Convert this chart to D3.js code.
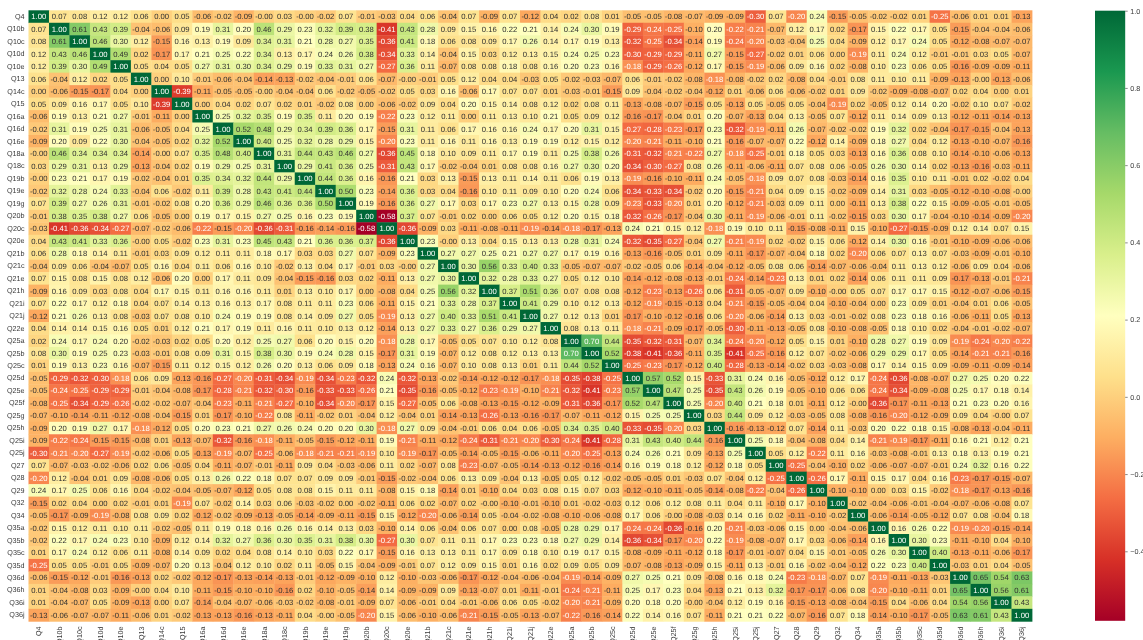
<!DOCTYPE html>
<html><head><meta charset="utf-8">
<style>html,body{margin:0;padding:0;background:#fff;overflow:hidden}svg{display:block;filter:blur(0.4px);text-rendering:geometricPrecision}</style>
<script src="https://cdn.jsdelivr.net/npm/d3@7"></script>
</head><body><svg id="chart" width="1143" height="640"></svg>
<script>
const labels = ["Q4","Q10b","Q10c","Q10d","Q10e","Q13","Q14c","Q15","Q16a","Q16d","Q16e","Q18a","Q18c","Q19b","Q19e","Q19g","Q20b","Q20c","Q20e","Q21b","Q21c","Q21e","Q21h","Q21i","Q21j","Q22e","Q25a","Q25b","Q25c","Q25d","Q25e","Q25f","Q25g","Q25h","Q25i","Q25j","Q27","Q28","Q29","Q32","Q34","Q35a","Q35b","Q35c","Q35d","Q36d","Q36h","Q36i","Q36j"];
const colorbarTicks = [-0.4,-0.2,0,0.2,0.4,0.6,0.8,1];
const paletteRdYlGn = ["#a50026","#d73027","#f46d43","#fdae61","#fee08b","#ffffbf","#d9ef8b","#a6d96a","#66bd63","#1a9850","#006837"];

const rQ4=[1.00,0.07,0.08,0.12,0.12,0.06,0.00,0.05,-0.06,-0.02,-0.09,-0.00,0.03,-0.00,-0.02,0.07,-0.01,-0.03,0.04,0.06,-0.04,0.07,-0.09,0.07,-0.12,0.04,0.02,0.08,0.01,-0.05,-0.05,-0.08,-0.07,-0.09,-0.09,-0.30,0.07,-0.20,0.24,-0.15,-0.05,-0.02,-0.02,0.01,-0.25,-0.06,0.01,0.01,-0.13];
const rQ10b=[0.07,1.00,0.61,0.43,0.39,-0.04,-0.06,0.09,0.19,0.31,0.20,0.46,0.29,0.23,0.32,0.39,0.38,-0.41,0.43,0.28,0.09,0.15,0.16,0.22,0.21,0.14,0.24,0.30,0.19,-0.29,-0.24,-0.25,-0.10,0.20,-0.22,-0.21,-0.07,0.12,0.17,0.02,-0.17,0.15,0.22,0.17,0.05,-0.15,-0.04,-0.04,-0.06];
const rQ10c=[0.08,0.61,1.00,0.46,0.30,0.12,-0.15,0.16,0.13,0.19,0.09,0.34,0.31,0.21,0.28,0.27,0.35,-0.36,0.41,0.18,0.06,0.08,0.09,0.17,0.26,0.14,0.17,0.19,0.13,-0.32,-0.25,-0.34,-0.14,0.19,-0.24,-0.20,-0.03,-0.04,0.25,0.04,-0.09,0.12,0.17,0.24,0.05,-0.12,-0.08,-0.07,-0.07];
const rQ10d=[0.12,0.43,0.46,1.00,0.49,0.02,-0.17,0.17,0.21,0.25,0.22,0.34,0.13,0.17,0.24,0.26,0.38,-0.34,0.33,0.14,-0.04,0.15,0.03,0.12,0.13,0.15,0.24,0.25,0.23,-0.30,-0.29,-0.29,-0.11,0.27,-0.15,-0.27,-0.02,0.01,0.06,0.00,-0.19,0.11,0.24,0.12,-0.01,-0.01,0.03,0.05,-0.07];
const rQ10e=[0.12,0.39,0.30,0.49,1.00,0.05,0.04,0.05,0.27,0.31,0.30,0.34,0.29,0.19,0.33,0.31,0.27,-0.27,0.36,0.11,-0.07,0.08,0.08,0.18,0.08,0.16,0.20,0.23,0.16,-0.18,-0.29,-0.26,-0.12,0.17,-0.15,-0.19,-0.06,0.09,0.16,0.02,-0.08,0.10,0.23,0.06,0.05,-0.16,-0.09,-0.09,-0.11];
const rQ13=[0.06,-0.04,0.12,0.02,0.05,1.00,0.00,0.10,-0.01,-0.06,-0.04,-0.14,-0.13,-0.02,-0.04,-0.01,0.06,-0.07,-0.00,-0.01,0.05,0.12,0.04,0.04,-0.03,0.05,-0.02,-0.03,-0.07,0.06,-0.01,-0.02,-0.08,-0.18,-0.08,-0.02,0.02,-0.08,0.04,-0.01,0.08,0.11,0.10,0.11,-0.09,-0.13,-0.00,-0.13,-0.06];
const rQ14c=[0.00,-0.06,-0.15,-0.17,0.04,0.00,1.00,-0.39,-0.11,-0.05,-0.05,-0.00,-0.04,-0.04,0.06,-0.02,-0.05,-0.02,0.05,0.03,0.16,-0.06,0.17,0.07,0.07,0.01,-0.03,-0.01,-0.15,0.09,-0.04,-0.02,-0.04,-0.12,0.01,-0.06,0.06,-0.06,-0.02,0.01,0.09,-0.02,-0.09,-0.08,-0.07,0.02,0.04,0.00,0.01];
const rQ15=[0.05,0.09,0.16,0.17,0.05,0.10,-0.39,1.00,0.00,0.04,0.02,0.07,0.02,0.01,-0.02,0.08,0.00,-0.06,-0.02,0.09,0.04,0.20,0.15,0.14,0.08,0.12,0.02,0.08,0.11,-0.13,-0.08,-0.07,-0.15,0.05,-0.13,0.05,-0.05,0.05,-0.04,-0.19,0.02,-0.05,0.12,0.14,0.20,-0.02,0.10,0.07,-0.02];
const rQ16a=[-0.06,0.19,0.13,0.21,0.27,-0.01,-0.11,0.00,1.00,0.25,0.32,0.35,0.19,0.35,0.11,0.20,0.19,-0.22,0.23,0.12,0.11,0.00,0.11,0.13,0.10,0.21,0.05,0.09,0.12,-0.16,-0.17,-0.04,0.01,0.20,-0.07,-0.13,0.04,0.13,-0.05,0.07,-0.12,0.11,0.14,0.09,0.13,-0.12,-0.11,-0.14,-0.13];
const rQ16d=[-0.02,0.31,0.19,0.25,0.31,-0.06,-0.05,0.04,0.25,1.00,0.52,0.48,0.29,0.34,0.39,0.36,0.17,-0.15,0.31,0.11,0.06,0.17,0.16,0.16,0.24,0.17,0.20,0.31,0.15,-0.27,-0.28,-0.23,-0.17,0.23,-0.32,-0.19,-0.11,0.26,-0.07,-0.02,-0.02,0.19,0.32,0.02,-0.04,-0.17,-0.15,-0.04,-0.13];
const rQ16e=[-0.09,0.20,0.09,0.22,0.30,-0.04,-0.05,0.02,0.32,0.52,1.00,0.40,0.25,0.32,0.28,0.29,0.15,-0.20,0.23,0.11,0.16,0.11,0.16,0.13,0.19,0.19,0.12,0.15,0.12,-0.20,-0.21,-0.11,-0.10,0.21,-0.16,-0.07,-0.07,0.22,-0.12,0.14,-0.09,0.18,0.27,0.04,0.12,-0.13,-0.10,-0.07,-0.16];
const rQ18a=[-0.00,0.46,0.34,0.34,0.34,-0.14,-0.00,0.07,0.35,0.48,0.40,1.00,0.31,0.44,0.43,0.46,0.27,-0.36,0.45,0.18,0.10,0.09,0.11,0.17,0.19,0.11,0.25,0.38,0.26,-0.31,-0.32,-0.21,-0.22,0.27,-0.18,-0.25,-0.01,0.18,0.05,0.03,-0.13,0.16,0.36,0.08,0.10,-0.14,-0.10,-0.06,-0.13];
const rQ18c=[0.03,0.29,0.31,0.13,0.29,-0.13,-0.04,0.02,0.19,0.29,0.25,0.31,1.00,0.29,0.41,0.36,0.25,-0.31,0.43,0.17,-0.02,-0.04,0.01,0.08,0.08,0.16,0.27,0.30,0.20,-0.34,-0.30,-0.27,0.08,0.26,-0.11,-0.06,-0.11,0.07,0.08,0.06,-0.05,0.26,0.30,0.14,0.02,-0.13,-0.16,-0.03,-0.11];
const rQ19b=[-0.00,0.23,0.21,0.17,0.19,-0.02,-0.04,0.01,0.35,0.34,0.32,0.44,0.29,1.00,0.44,0.36,0.16,-0.16,0.21,0.03,0.13,-0.15,0.13,0.11,0.14,0.11,0.06,0.19,0.13,-0.19,-0.16,-0.10,-0.11,0.24,-0.05,-0.18,0.09,0.07,0.08,-0.03,-0.14,0.16,0.35,0.10,0.11,-0.01,0.02,-0.02,0.04];
const rQ19e=[-0.02,0.32,0.28,0.24,0.33,-0.04,0.06,-0.02,0.11,0.39,0.28,0.43,0.41,0.44,1.00,0.50,0.23,-0.14,0.36,0.03,0.04,-0.16,0.10,0.11,0.09,0.10,0.20,0.24,0.06,-0.34,-0.33,-0.34,-0.02,0.20,-0.15,-0.21,0.04,0.09,0.15,-0.02,-0.09,0.14,0.31,0.03,-0.05,-0.12,-0.10,-0.08,-0.00];
const rQ19g=[0.07,0.39,0.27,0.26,0.31,-0.01,-0.02,0.08,0.20,0.36,0.29,0.46,0.36,0.36,0.50,1.00,0.19,-0.16,0.36,0.27,0.17,0.03,0.17,0.23,0.27,0.13,0.15,0.28,0.09,-0.23,-0.33,-0.20,0.01,0.20,-0.12,-0.21,-0.03,0.09,0.11,0.00,-0.11,0.13,0.38,0.22,0.15,-0.09,-0.05,-0.01,-0.05];
const rQ20b=[-0.01,0.38,0.35,0.38,0.27,0.06,-0.05,0.00,0.19,0.17,0.15,0.27,0.25,0.16,0.23,0.19,1.00,-0.58,0.37,0.07,-0.01,0.02,0.00,0.06,0.05,0.12,0.20,0.15,0.18,-0.32,-0.26,-0.17,-0.04,0.30,-0.11,-0.19,-0.06,-0.01,0.11,-0.02,-0.15,0.03,0.30,0.17,-0.04,-0.10,-0.14,-0.09,-0.20];
const rQ20c=[-0.03,-0.41,-0.36,-0.34,-0.27,-0.07,-0.02,-0.06,-0.22,-0.15,-0.20,-0.36,-0.31,-0.16,-0.14,-0.16,-0.58,1.00,-0.36,-0.09,0.03,-0.11,-0.08,-0.11,-0.19,-0.14,-0.18,-0.17,-0.13,0.24,0.21,0.15,0.12,-0.18,0.19,0.10,0.11,-0.15,-0.08,-0.11,0.15,-0.10,-0.27,-0.15,-0.09,0.12,0.14,0.07,0.15];
const rQ20e=[0.04,0.43,0.41,0.33,0.36,-0.00,0.05,-0.02,0.23,0.31,0.23,0.45,0.43,0.21,0.36,0.36,0.37,-0.36,1.00,0.23,-0.00,0.13,0.04,0.15,0.13,0.13,0.28,0.31,0.24,-0.32,-0.35,-0.27,-0.04,0.27,-0.21,-0.19,0.02,-0.02,0.15,0.06,-0.12,0.14,0.30,0.16,-0.01,-0.10,-0.09,-0.06,-0.06];
const rQ21b=[0.06,0.28,0.18,0.14,0.11,-0.01,0.03,0.09,0.12,0.11,0.11,0.18,0.17,0.03,0.03,0.27,0.07,-0.09,0.23,1.00,0.27,0.27,0.25,0.21,0.27,0.27,0.17,0.19,0.16,-0.13,-0.16,-0.05,0.01,0.09,-0.11,-0.17,-0.07,-0.04,0.18,0.02,-0.20,0.06,0.07,0.13,0.07,-0.03,-0.09,-0.01,-0.10];
const rQ21c=[-0.04,0.09,0.06,-0.04,-0.07,0.05,0.16,0.04,0.11,0.06,0.16,0.10,-0.02,0.13,0.04,0.17,-0.01,0.03,-0.00,0.27,1.00,0.30,0.56,0.33,0.40,0.33,-0.05,-0.07,-0.07,-0.02,-0.05,0.06,-0.14,-0.04,-0.12,-0.05,0.08,0.06,-0.14,-0.07,-0.06,-0.04,0.11,0.13,0.12,-0.06,0.09,0.04,-0.06];
const rQ21e=[0.07,0.15,0.08,0.15,0.08,0.12,-0.06,0.20,0.00,0.17,0.11,0.09,-0.04,-0.15,-0.16,0.03,0.02,-0.11,0.13,0.27,0.30,1.00,0.32,0.28,0.33,0.27,0.05,0.12,0.10,-0.14,-0.12,-0.08,-0.13,-0.01,-0.24,-0.14,-0.23,0.13,0.01,0.02,-0.14,0.06,0.11,0.11,0.09,-0.17,-0.13,-0.01,-0.21];
const rQ21h=[-0.09,0.16,0.09,0.03,0.08,0.04,0.17,0.15,0.11,0.16,0.16,0.11,0.01,0.13,0.10,0.17,0.00,-0.08,0.04,0.25,0.56,0.32,1.00,0.37,0.51,0.36,0.07,0.08,0.08,-0.12,-0.23,-0.13,-0.26,0.06,-0.31,-0.05,-0.07,0.09,-0.10,-0.00,0.05,0.07,0.17,0.17,0.15,-0.12,-0.07,-0.06,-0.15];
const rQ21i=[0.07,0.22,0.17,0.12,0.18,0.04,0.07,0.14,0.13,0.16,0.13,0.17,0.08,0.11,0.11,0.23,0.06,-0.11,0.15,0.21,0.33,0.28,0.37,1.00,0.41,0.29,0.10,0.12,0.13,-0.12,-0.19,-0.15,-0.13,0.04,-0.21,-0.15,-0.05,-0.04,0.04,-0.10,-0.04,0.00,0.23,0.09,0.01,-0.04,0.01,0.06,-0.05];
const rQ21j=[-0.12,0.21,0.26,0.13,0.08,-0.03,0.07,0.08,0.10,0.24,0.19,0.19,0.08,0.14,0.09,0.27,0.05,-0.19,0.13,0.27,0.40,0.33,0.51,0.41,1.00,0.27,0.12,0.13,0.01,-0.17,-0.10,-0.12,-0.16,0.06,-0.20,-0.06,-0.14,0.13,0.03,-0.01,-0.02,0.08,0.23,0.18,0.16,-0.06,-0.11,0.05,-0.13];
const rQ22e=[0.04,0.14,0.14,0.15,0.16,0.05,0.01,0.12,0.21,0.17,0.19,0.11,0.16,0.11,0.10,0.13,0.12,-0.14,0.13,0.27,0.33,0.27,0.36,0.29,0.27,1.00,0.08,0.13,0.11,-0.18,-0.21,-0.09,-0.17,-0.05,-0.30,-0.11,-0.13,-0.05,0.08,-0.10,-0.08,-0.05,0.18,0.10,0.02,-0.04,-0.01,-0.02,-0.07];
const rQ25a=[0.02,0.24,0.17,0.24,0.20,-0.02,-0.03,0.02,0.05,0.20,0.12,0.25,0.27,0.06,0.20,0.15,0.20,-0.18,0.28,0.17,-0.05,0.05,0.07,0.10,0.12,0.08,1.00,0.70,0.44,-0.35,-0.32,-0.31,-0.07,0.34,-0.24,-0.20,-0.12,0.05,0.15,0.01,-0.10,0.28,0.27,0.19,0.09,-0.19,-0.24,-0.20,-0.22];
const rQ25b=[0.08,0.30,0.19,0.25,0.23,-0.03,-0.01,0.08,0.09,0.31,0.15,0.38,0.30,0.19,0.24,0.28,0.15,-0.17,0.31,0.19,-0.07,0.12,0.08,0.12,0.13,0.13,0.70,1.00,0.52,-0.38,-0.41,-0.36,-0.11,0.35,-0.41,-0.25,-0.16,0.12,0.07,-0.02,-0.06,0.29,0.29,0.17,0.05,-0.14,-0.21,-0.21,-0.16];
const rQ25c=[0.01,0.19,0.13,0.23,0.16,-0.07,-0.15,0.11,0.12,0.15,0.12,0.26,0.20,0.13,0.06,0.09,0.18,-0.13,0.24,0.16,-0.07,0.10,0.08,0.13,0.01,0.11,0.44,0.52,1.00,-0.25,-0.23,-0.17,-0.12,0.40,-0.28,-0.13,-0.14,-0.02,0.03,-0.03,-0.08,0.17,0.14,0.15,0.09,-0.09,-0.11,-0.09,-0.14];
const rQ25d=[-0.05,-0.29,-0.32,-0.30,-0.18,0.06,0.09,-0.13,-0.16,-0.27,-0.20,-0.31,-0.34,-0.19,-0.34,-0.23,-0.32,0.24,-0.32,-0.13,-0.02,-0.14,-0.12,-0.12,-0.17,-0.18,-0.35,-0.38,-0.25,1.00,0.57,0.52,0.15,-0.33,0.31,0.24,0.16,-0.05,-0.12,0.12,0.17,-0.24,-0.36,-0.08,-0.07,0.27,0.25,0.20,0.22];
const rQ25e=[-0.05,-0.24,-0.25,-0.29,-0.29,-0.01,-0.04,-0.08,-0.17,-0.28,-0.21,-0.32,-0.30,-0.16,-0.33,-0.33,-0.26,0.21,-0.35,-0.16,-0.05,-0.12,-0.23,-0.19,-0.10,-0.21,-0.32,-0.41,-0.23,0.57,1.00,0.47,0.25,-0.35,0.43,0.26,0.19,-0.05,-0.10,0.06,0.06,-0.24,-0.34,-0.09,-0.08,0.25,0.17,0.18,0.14];
const rQ25f=[-0.08,-0.25,-0.34,-0.29,-0.26,-0.02,-0.02,-0.07,-0.04,-0.23,-0.11,-0.21,-0.27,-0.10,-0.34,-0.20,-0.17,0.15,-0.27,-0.05,0.06,-0.08,-0.13,-0.15,-0.12,-0.09,-0.31,-0.36,-0.17,0.52,0.47,1.00,0.25,-0.20,0.40,0.21,0.18,0.01,-0.11,0.12,-0.00,-0.36,-0.17,-0.11,-0.13,0.21,0.23,0.20,0.16];
const rQ25g=[-0.07,-0.10,-0.14,-0.11,-0.12,-0.08,-0.04,-0.15,0.01,-0.17,-0.10,-0.22,0.08,-0.11,-0.02,0.01,-0.04,0.12,-0.04,0.01,-0.14,-0.13,-0.26,-0.13,-0.16,-0.17,-0.07,-0.11,-0.12,0.15,0.25,0.25,1.00,0.03,0.44,0.09,0.12,-0.03,-0.05,0.08,-0.08,-0.16,-0.20,-0.12,-0.09,0.09,0.04,-0.00,0.07];
const rQ25h=[-0.09,0.20,0.19,0.27,0.17,-0.18,-0.12,0.05,0.20,0.23,0.21,0.27,0.26,0.24,0.20,0.20,0.30,-0.18,0.27,0.09,-0.04,-0.01,0.06,0.04,0.06,-0.05,0.34,0.35,0.40,-0.33,-0.35,-0.20,0.03,1.00,-0.16,-0.13,-0.12,0.07,-0.14,0.11,-0.03,0.20,0.22,0.18,0.15,-0.08,-0.13,-0.04,-0.11];
const rQ25i=[-0.09,-0.22,-0.24,-0.15,-0.15,-0.08,0.01,-0.13,-0.07,-0.32,-0.16,-0.18,-0.11,-0.05,-0.15,-0.12,-0.11,0.19,-0.21,-0.11,-0.12,-0.24,-0.31,-0.21,-0.20,-0.30,-0.24,-0.41,-0.28,0.31,0.43,0.40,0.44,-0.16,1.00,0.25,0.18,-0.04,-0.08,0.04,0.14,-0.21,-0.19,-0.17,-0.11,0.16,0.21,0.12,0.21];
const rQ25j=[-0.30,-0.21,-0.20,-0.27,-0.19,-0.02,-0.06,0.05,-0.13,-0.19,-0.07,-0.25,-0.06,-0.18,-0.21,-0.21,-0.19,0.10,-0.19,-0.17,-0.05,-0.14,-0.05,-0.15,-0.06,-0.11,-0.20,-0.25,-0.13,0.24,0.26,0.21,0.09,-0.13,0.25,1.00,0.05,0.12,-0.22,0.11,0.16,-0.03,-0.08,-0.01,0.13,0.18,0.13,0.19,0.21];
const rQ27=[0.07,-0.07,-0.03,-0.02,-0.06,0.02,0.06,-0.05,0.04,-0.11,-0.07,-0.01,-0.11,0.09,0.04,-0.03,-0.06,0.11,0.02,-0.07,0.08,-0.23,-0.07,-0.05,-0.14,-0.13,-0.12,-0.16,-0.14,0.16,0.19,0.18,0.12,-0.12,0.18,0.05,1.00,-0.25,-0.04,-0.10,0.02,-0.06,-0.07,-0.07,-0.01,0.24,0.32,0.16,0.22];
const rQ28=[-0.20,0.12,-0.04,0.01,0.09,-0.08,-0.06,0.05,0.13,0.26,0.22,0.18,0.07,0.07,0.09,0.09,-0.01,-0.15,-0.02,-0.04,0.06,0.13,0.09,-0.04,0.13,-0.05,0.05,0.12,-0.02,-0.05,-0.05,0.01,-0.03,0.07,-0.04,0.12,-0.25,1.00,-0.26,0.17,-0.11,0.15,0.17,0.04,0.16,-0.23,-0.17,-0.15,-0.07];
const rQ29=[0.24,0.17,0.25,0.06,0.16,0.04,-0.02,-0.04,-0.05,-0.07,-0.12,0.05,0.08,0.08,0.15,0.11,0.11,-0.08,0.15,0.18,-0.14,0.01,-0.10,0.04,0.03,0.08,0.15,0.07,0.03,-0.12,-0.10,-0.11,-0.05,-0.14,-0.08,-0.22,-0.04,-0.26,1.00,-0.10,-0.10,0.00,0.03,0.15,-0.02,-0.18,-0.17,-0.13,-0.16];
const rQ32=[-0.15,0.02,0.04,0.00,0.02,-0.01,0.01,-0.19,0.07,-0.02,0.14,0.03,0.06,-0.03,-0.02,0.00,-0.02,-0.11,0.06,0.02,-0.07,0.02,-0.00,-0.10,-0.01,-0.10,0.01,-0.02,-0.03,0.12,0.06,0.12,0.08,0.11,0.04,0.11,-0.10,0.17,-0.10,1.00,-0.02,-0.04,-0.06,-0.01,-0.04,-0.07,-0.06,-0.08,0.07];
const rQ34=[-0.05,-0.17,-0.09,-0.19,-0.08,0.08,0.09,0.02,-0.12,-0.02,-0.09,-0.13,-0.05,-0.14,-0.09,-0.11,-0.15,0.15,-0.12,-0.20,-0.06,-0.14,0.05,-0.04,-0.02,-0.08,-0.10,-0.06,-0.08,0.17,0.06,-0.00,-0.08,-0.03,0.14,0.16,0.02,-0.11,-0.10,-0.02,1.00,-0.06,-0.14,-0.05,-0.12,0.07,0.08,-0.04,0.18];
const rQ35a=[-0.02,0.15,0.12,0.11,0.10,0.11,-0.02,-0.05,0.11,0.19,0.18,0.16,0.26,0.16,0.14,0.13,0.03,-0.10,0.14,0.06,-0.04,0.06,0.07,0.00,0.08,-0.05,0.28,0.29,0.17,-0.24,-0.24,-0.36,-0.16,0.20,-0.21,-0.03,-0.06,0.15,0.00,-0.04,-0.06,1.00,0.16,0.26,0.22,-0.19,-0.20,-0.15,-0.14];
const rQ35b=[-0.02,0.22,0.17,0.24,0.23,0.10,-0.09,0.12,0.14,0.32,0.27,0.36,0.30,0.35,0.31,0.38,0.30,-0.27,0.30,0.07,0.11,0.11,0.17,0.23,0.23,0.18,0.27,0.29,0.14,-0.36,-0.34,-0.17,-0.20,0.22,-0.19,-0.08,-0.07,0.17,0.03,-0.06,-0.14,0.16,1.00,0.30,0.23,-0.11,-0.10,0.04,-0.10];
const rQ35c=[0.01,0.17,0.24,0.12,0.06,0.11,-0.08,0.14,0.09,0.02,0.04,0.08,0.14,0.10,0.03,0.22,0.17,-0.15,0.16,0.13,0.13,0.11,0.17,0.09,0.18,0.10,0.19,0.17,0.15,-0.08,-0.09,-0.11,-0.12,0.18,-0.17,-0.01,-0.07,0.04,0.15,-0.01,-0.05,0.26,0.30,1.00,0.40,-0.13,-0.11,-0.06,-0.17];
const rQ35d=[-0.25,0.05,0.05,-0.01,0.05,-0.09,-0.07,0.20,0.13,-0.04,0.12,0.10,0.02,0.11,-0.05,0.15,-0.04,-0.09,-0.01,0.07,0.12,0.09,0.15,0.01,0.16,0.02,0.09,0.05,0.09,-0.07,-0.08,-0.13,-0.09,0.15,-0.11,0.13,-0.01,0.16,-0.02,-0.04,-0.12,0.22,0.23,0.40,1.00,-0.03,0.01,0.04,-0.05];
const rQ36d=[-0.06,-0.15,-0.12,-0.01,-0.16,-0.13,0.02,-0.02,-0.12,-0.17,-0.13,-0.14,-0.13,-0.01,-0.12,-0.09,-0.10,0.12,-0.10,-0.03,-0.06,-0.17,-0.12,-0.04,-0.06,-0.04,-0.19,-0.14,-0.09,0.27,0.25,0.21,0.09,-0.08,0.16,0.18,0.24,-0.23,-0.18,-0.07,0.07,-0.19,-0.11,-0.13,-0.03,1.00,0.65,0.54,0.63];
const rQ36h=[0.01,-0.04,-0.08,0.03,-0.09,-0.00,0.04,0.10,-0.11,-0.15,-0.10,-0.10,-0.16,0.02,-0.10,-0.05,-0.14,0.14,-0.09,-0.09,0.09,-0.13,-0.07,0.01,-0.11,-0.01,-0.24,-0.21,-0.11,0.25,0.17,0.23,0.04,-0.13,0.21,0.13,0.32,-0.17,-0.17,-0.06,0.08,-0.20,-0.10,-0.11,0.01,0.65,1.00,0.56,0.61];
const rQ36i=[0.01,-0.04,-0.07,0.05,-0.09,-0.13,0.00,0.07,-0.14,-0.04,-0.07,-0.06,-0.03,-0.02,-0.08,-0.01,-0.09,0.07,-0.06,-0.01,0.04,-0.01,-0.06,0.06,0.05,-0.02,-0.20,-0.21,-0.09,0.20,0.18,0.20,-0.00,-0.04,0.12,0.19,0.16,-0.15,-0.13,-0.08,-0.04,-0.15,0.04,-0.06,0.04,0.54,0.56,1.00,0.43];
const rQ36j=[-0.13,-0.06,-0.07,-0.07,-0.11,-0.06,0.01,-0.02,-0.13,-0.13,-0.16,-0.13,-0.11,0.04,-0.00,-0.05,-0.20,0.15,-0.06,-0.10,-0.06,-0.21,-0.15,-0.05,-0.13,-0.07,-0.22,-0.16,-0.14,0.22,0.14,0.16,0.07,-0.11,0.21,0.21,0.22,-0.07,-0.16,0.07,0.18,-0.14,-0.10,-0.17,-0.05,0.63,0.61,0.43,1.00];
const rows=[rQ4,rQ10b,rQ10c,rQ10d,rQ10e,rQ13,rQ14c,rQ15,rQ16a,rQ16d,rQ16e,rQ18a,rQ18c,rQ19b,rQ19e,rQ19g,rQ20b,rQ20c,rQ20e,rQ21b,rQ21c,rQ21e,rQ21h,rQ21i,rQ21j,rQ22e,rQ25a,rQ25b,rQ25c,rQ25d,rQ25e,rQ25f,rQ25g,rQ25h,rQ25i,rQ25j,rQ27,rQ28,rQ29,rQ32,rQ34,rQ35a,rQ35b,rQ35c,rQ35d,rQ36d,rQ36h,rQ36i,rQ36j];

const plot={left:28.5,right:1032,top:10.3,bottom:621.3};
const bar={left:1095,right:1125.2,top:10.7,bottom:620.8};
const vmin=d3.min(rows.flat()), vmax=d3.max(rows.flat());
const paletteDomain=paletteRdYlGn.map((_,i)=>vmin+(vmax-vmin)*i/(paletteRdYlGn.length-1));
const color=d3.scaleLinear().domain(paletteDomain).range(paletteRdYlGn).interpolate(d3.interpolateRgb);
const x=d3.scaleBand().domain(labels).range([plot.left,plot.right]).paddingInner(0).paddingOuter(0);
const y=d3.scaleBand().domain(labels).range([plot.top,plot.bottom]).paddingInner(0).paddingOuter(0);
const yBar=d3.scaleLinear().domain([vmin,vmax]).range([bar.bottom,bar.top]);

const FONT='"Liberation Sans",Arial,sans-serif';
const ANNOT_DARK="#303030", TICK_DARK="#3a3a3a";
function cellText(v){return (Object.is(v,-0)?"-":"")+v.toFixed(2);}
function lin(c){c/=255;return c<=0.03928?c/12.92:Math.pow((c+0.055)/1.055,2.4);}
function textColor(v){const c=d3.rgb(color(v));const L=0.2126*lin(c.r)+0.7152*lin(c.g)+0.0722*lin(c.b);return L>0.408?ANNOT_DARK:"#ffffff";}

const svg=d3.select("#chart");
svg.append("rect").attr("width",1143).attr("height",640).attr("fill","#fff");
const cells=rows.flatMap((r,i)=>r.map((v,j)=>({row:labels[i],col:labels[j],v})));
const heat=svg.append("g");
heat.selectAll("rect").data(cells).join("rect")
  .attr("x",d=>x(d.col)).attr("y",d=>y(d.row))
  .attr("width",x.bandwidth()+0.4).attr("height",y.bandwidth()+0.4)
  .attr("fill",d=>color(d.v));
heat.selectAll("text").data(cells).join("text")
  .attr("x",d=>x(d.col)+x.bandwidth()/2).attr("y",d=>y(d.row)+y.bandwidth()/2)
  .attr("dy","0.36em").attr("text-anchor","middle")
  .attr("font-family",FONT).attr("font-size",7.7)
  .attr("fill",d=>textColor(d.v)).text(d=>cellText(d.v));

const xAxis=svg.append("g").attr("transform",`translate(0,${plot.bottom})`)
  .call(d3.axisBottom(x).tickSize(0).tickPadding(0));
xAxis.select(".domain").remove();
xAxis.selectAll("text").attr("font-family",FONT).attr("font-size",7.2).attr("fill",TICK_DARK)
  .attr("text-anchor","end").attr("dy","0.35em").attr("y",0)
  .attr("transform","translate(0,5.2) rotate(-90)");
const yAxis=svg.append("g").attr("transform",`translate(${plot.left},0)`)
  .call(d3.axisLeft(y).tickSize(0).tickPadding(4));
yAxis.select(".domain").remove();
yAxis.selectAll("text").attr("font-family",FONT).attr("font-size",7.2).attr("fill",TICK_DARK);

const grad=svg.append("defs").append("linearGradient").attr("id","cbar").attr("x1",0).attr("x2",0).attr("y1",1).attr("y2",0);
grad.selectAll("stop").data(paletteRdYlGn).join("stop")
  .attr("offset",(d,i)=>i/(paletteRdYlGn.length-1)).attr("stop-color",d=>d);
svg.append("rect").attr("x",bar.left).attr("width",bar.right-bar.left)
  .attr("y",bar.top).attr("height",bar.bottom-bar.top).attr("fill","url(#cbar)");
const cAxis=svg.append("g").attr("transform",`translate(${bar.right},0)`)
  .call(d3.axisRight(yBar).tickValues(colorbarTicks).tickFormat(d3.format(".1f")).tickSize(2.5).tickPadding(2.5));
cAxis.select(".domain").remove();
cAxis.selectAll("line").attr("stroke",TICK_DARK).attr("stroke-width",0.6);
cAxis.selectAll("text").attr("font-family",FONT).attr("font-size",7.2).attr("fill",TICK_DARK);
</script></body></html>
